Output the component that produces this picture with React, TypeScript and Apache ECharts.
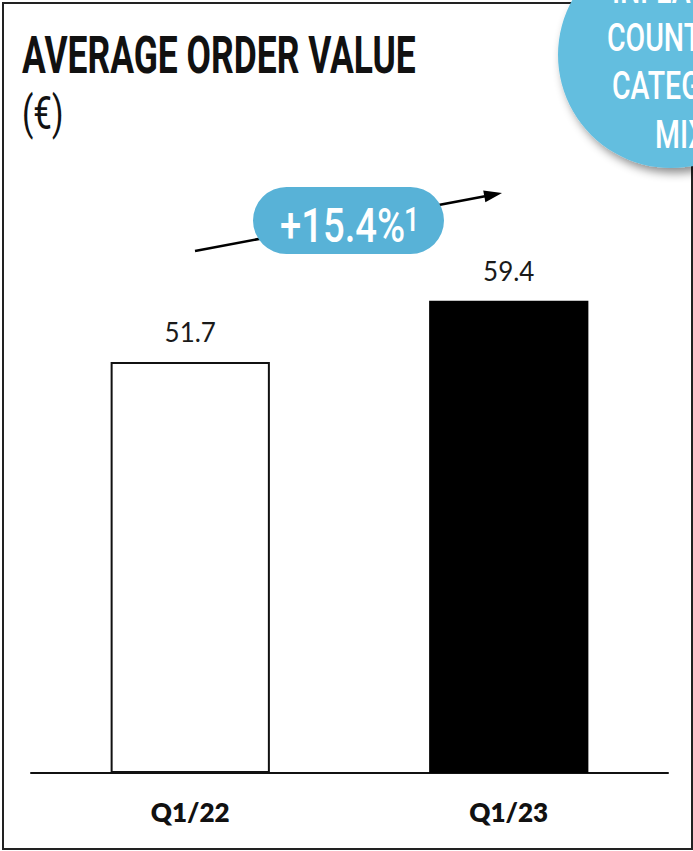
import React, { useEffect, useRef } from "react";
import * as echarts from "echarts";

const categories = ["Q1/22", "Q1/23"];
const values = [51.7, 59.4];
const title = "AVERAGE ORDER VALUE";
const unit = "(€)";
const changeLabel = "+15.4%";
const changeNote = "1";
const bubbleLines = ["INFLATION", "COUNTRY", "CATEGORY", "MIX"];

export default function App() {
  const ref = useRef<HTMLDivElement>(null);
  useEffect(() => {
    if (!ref.current) return;
    const chart = echarts.init(ref.current, undefined, { renderer: "svg" });
    const lineStarts = [612, 607, 612, 655];
    const lineYs = [-10, 38, 86, 135];
    const cond = "Roboto, 'DejaVu Sans', sans-serif";
    chart.setOption({
      animation: false,
      backgroundColor: "#ffffff",
      grid: { left: 31, right: 25, top: 296, bottom: 78 },
      xAxis: {
        type: "category",
        data: categories,
        axisLine: { lineStyle: { color: "#111", width: 2 } },
        axisTick: { show: false },
        axisLabel: {
          margin: 26,
          fontFamily: "Lato, sans-serif",
          fontWeight: 800,
          fontSize: 26,
          color: "#111",
        },
      },
      yAxis: { type: "value", min: 0, max: 60, show: false },
      series: [
        {
          type: "bar",
          barWidth: "50%",
          data: values.map((v, i) => ({
            value: v,
            itemStyle:
              i === 0
                ? { color: "#ffffff", borderColor: "#111", borderWidth: 2 }
                : { color: "#000000" },
          })),
          label: {
            show: true,
            position: "top",
            distance: 17,
            fontFamily: "Lato, sans-serif",
            fontSize: 26,
            color: "#1a1a1a",
          },
          z: 2,
        },
      ],
      graphic: [
        {
          type: "rect",
          shape: { x: 3, y: 3, width: 689, height: 846 },
          style: { fill: "none", stroke: "#222", lineWidth: 2 },
          z: 1,
        },
        {
          type: "text",
          x: 22,
          y: 56,
          scaleX: 0.695,
          style: {
            text: title,
            fontFamily: cond,
            fontWeight: "bold",
            fontSize: 51,
            fill: "#111",
            verticalAlign: "middle",
            align: "left",
          },
          z: 5,
        },
        {
          type: "text",
          x: 22,
          y: 114,
          scaleX: 0.72,
          style: {
            text: unit,
            fontFamily: cond,
            fontWeight: 400,
            fontSize: 46,
            fill: "#111",
            verticalAlign: "middle",
            align: "left",
          },
          z: 5,
        },
        {
          type: "line",
          shape: { x1: 195, y1: 251, x2: 485, y2: 196.3 },
          style: { stroke: "#000", lineWidth: 2.5 },
          z: 5,
        },
        {
          type: "polygon",
          shape: { points: [[502, 193], [485.4, 202.2], [483.2, 190.4]] },
          style: { fill: "#000" },
          z: 5,
        },
        {
          type: "rect",
          shape: { x: 253, y: 187, width: 191, height: 67, r: 33.5 },
          style: { fill: "#58B2D7" },
          z: 6,
        },
        {
          type: "text",
          x: 280,
          y: 225,
          scaleX: 0.78,
          style: {
            text: changeLabel,
            fontFamily: cond,
            fontWeight: 500,
            fontSize: 49,
            fill: "#ffffff",
            verticalAlign: "middle",
            align: "left",
          },
          z: 7,
        },
        {
          type: "text",
          x: 404,
          y: 219,
          scaleX: 0.8,
          style: {
            text: changeNote,
            fontFamily: cond,
            fontWeight: 500,
            fontSize: 34,
            fill: "#ffffff",
            verticalAlign: "middle",
            align: "left",
          },
          z: 7,
        },
        {
          type: "circle",
          shape: { cx: 671, cy: 55, r: 113 },
          style: {
            fill: "#64BEDF",
            shadowBlur: 10,
            shadowOffsetX: 4,
            shadowOffsetY: 5,
            shadowColor: "rgba(0,0,0,0.45)",
          },
          z: 10,
        },
        ...bubbleLines.map((t, i) => ({
          type: "text",
          x: lineStarts[i],
          y: lineYs[i],
          scaleX: 0.75,
          style: {
            text: t,
            fontFamily: cond,
            fontWeight: 500,
            fontSize: 38,
            fill: "#ffffff",
            verticalAlign: "middle",
            align: "left",
          },
          z: 11,
        })),
      ],
    });
    return () => chart.dispose();
  }, []);
  return (
    <div
      ref={ref}
      style={{ position: "absolute", left: 0, top: 0, width: 693, height: 851 }}
    />
  );
}
